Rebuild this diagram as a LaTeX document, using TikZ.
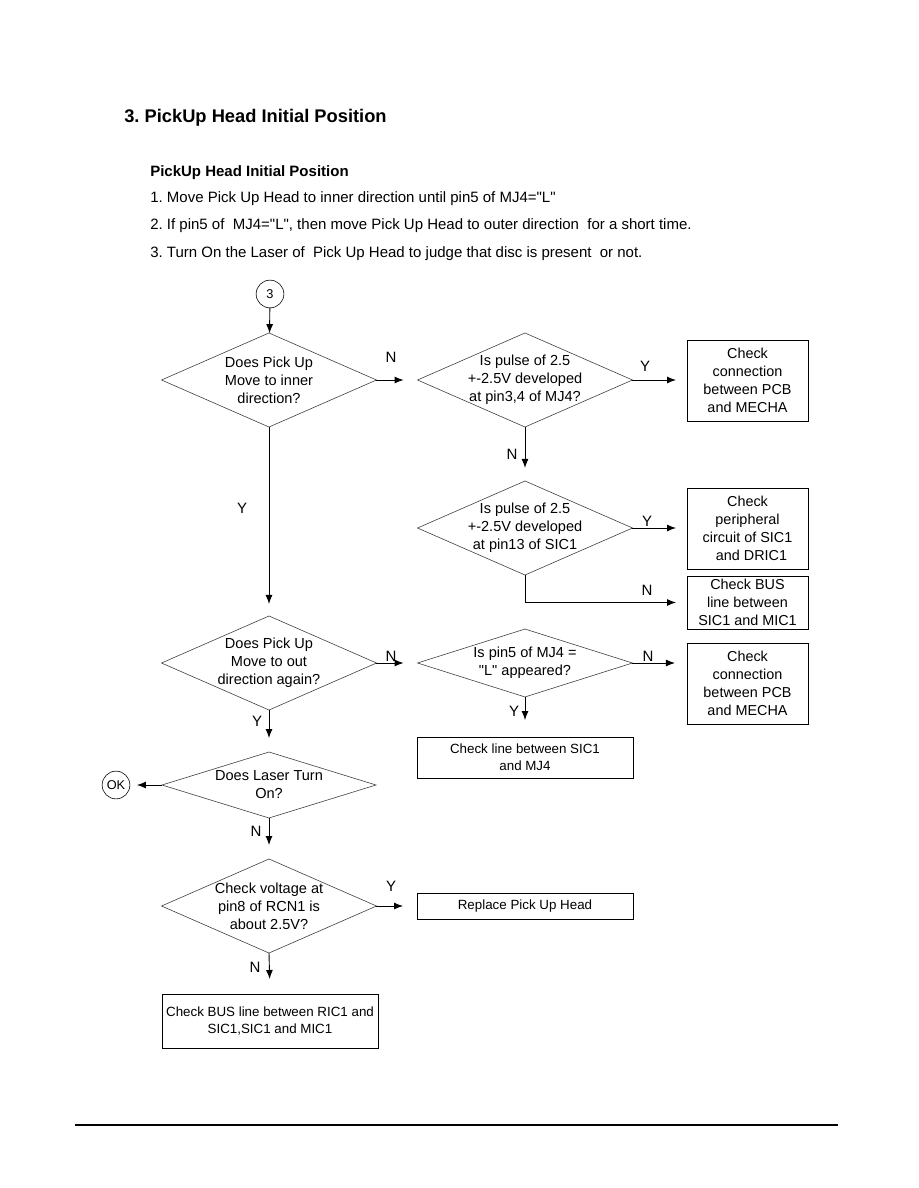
\documentclass[tikz,border=0pt]{standalone}
\usepackage{fontspec}
\setmainfont{Liberation Sans}[Ligatures=TeXOff]
\usetikzlibrary{arrows.meta,shapes.geometric}
\frenchspacing

\begin{document}
\begin{tikzpicture}[x=0.6667pt,y=-0.6667pt,>={Latex[length=6pt,width=4.6pt]},
  decision/.style={diamond,draw=black!75,line width=0.4pt,inner sep=0pt,outer sep=0pt,
    minimum width=143.3pt,minimum height=62.7pt},
  dtext/.style={align=center,inner sep=0pt,font=\fontsize{9.7}{12}\selectfont},
  smallbox/.style={draw,line width=0.6pt,inner sep=0pt,outer sep=0pt,align=center,
    minimum width=80.7pt,font=\fontsize{9.6}{12}\selectfont},
  widebox/.style={draw,line width=0.6pt,inner sep=0pt,outer sep=0pt,align=center,
    minimum width=144pt,font=\fontsize{8.9}{11.4}\selectfont},
  conn/.style={circle,draw,line width=0.4pt,inner sep=0pt,outer sep=0pt,
    minimum size=18.5pt,font=\fontsize{8.5}{9}\selectfont},
  yn/.style={inner sep=0pt,font=\fontsize{10}{12}\selectfont},
  head/.style={anchor=base west,inner sep=0pt,font=\fontsize{10}{12}\selectfont},
  flow/.style={->,line width=0.6pt}]
  \useasboundingbox (0,0) rectangle (918,1188);
  % heading
  \node[head,font=\fontsize{12.2}{15}\selectfont\bfseries] (title) at (124,123)
    {3. PickUp Head Initial Position};
  \node[head,font=\fontsize{10}{12}\selectfont\bfseries] (sub) at (150,177)
    {PickUp Head Initial Position};
  \node[head] (step1) at (150,203)
    {1. Move Pick Up Head to inner direction until pin5 of MJ4="L"};
  \node[head] (step2) at (150,230)
    {2. If pin5 of \ MJ4="L", then move Pick Up Head to outer direction \ for a short time.};
  \node[head] (step3) at (150,257)
    {3. Turn On the Laser of \ Pick Up Head to judge that disc is present \ or not.};

  % left column
  \node[conn] (c3) at (270,294) {3};
  \node[decision,label={[dtext]center:Does Pick Up\\Move to inner\\direction?}] (d1) at (269,380) {};
  \node[decision,label={[dtext]center:Does Pick Up\\Move to out\\direction again?}] (d4) at (269,663) {};
  \node[decision,minimum width=142.7pt,minimum height=44pt,
    label={[dtext]center:Does Laser Turn\\On?}] (d6) at (269,785) {};
  \node[conn] (ok) at (116,785) {OK};
  \node[decision,label={[dtext]center:Check voltage at\\pin8 of RCN1 is\\about 2.5V?}] (d7) at (269,906) {};
  \node[widebox,minimum height=36pt] (b7) at (270,1021)
    {Check BUS line between RIC1 and\\SIC1,SIC1 and MIC1};

  % middle column
  \node[decision,label={[dtext]center:Is pulse of 2.5\\+-2.5V developed\\at pin3,4 of MJ4?}] (d2) at (525,380) {};
  \node[decision,label={[dtext]center:Is pulse of 2.5\\+-2.5V developed\\at pin13 of SIC1}] (d3) at (525,528) {};
  \node[decision,minimum height=45.3pt,
    label={[dtext]center:Is pin5 of MJ4 =\\"L" appeared?}] (d5) at (525,663) {};
  \node[widebox,minimum height=27.3pt] (b5) at (525,757.5) {Check line between SIC1\\and MJ4};
  \node[widebox,minimum height=17.3pt] (b6) at (525,906) {Replace Pick Up Head};

  % right column
  \node[smallbox,minimum height=54pt] (b1) at (747.5,380.5) {Check\\connection\\between PCB\\and MECHA};
  \node[smallbox,minimum height=54pt] (b2) at (747.5,528.5) {Check\\peripheral\\circuit of SIC1\\\ \ and DRIC1};
  \node[smallbox,minimum height=35.3pt] (b3) at (747.5,602.5) {Check BUS\\line between\\SIC1 and MIC1};
  \node[smallbox,minimum height=54pt] (b4) at (747.5,683.5) {Check\\connection\\between PCB\\and MECHA};

  % connectors
  \draw[flow] (c3) -- (d1);
  \draw[flow,shorten >=9.3pt] (d1.east) -- (d2.west);
  \draw[flow,shorten >=7.3pt] (d2.east) -- (d2.east -| b1.west);
  \draw[flow,shorten >=8.7pt] (d2.south) -- (d3.north);
  \draw[flow,shorten >=7.3pt] (d3.east) -- (d3.east -| b2.west);
  \draw[flow,shorten >=7.3pt] (d3.south) |- (b3.west);
  \draw[flow,shorten >=8pt] (d1.south) -- (d4.north);
  \draw[flow,shorten >=9.3pt] (d4.east) -- (d5.west);
  \draw[flow,shorten >=8pt] (d5.east) -- (d5.east -| b4.west);
  \draw[flow,shorten >=11.3pt] (d5.south) -- (b5.north);
  \draw[flow,shorten >=9.3pt] (d4.south) -- (d6.north);
  \draw[flow,shorten >=4.7pt] (d6.west) -- (ok.east);
  \draw[flow,shorten >=9.3pt] (d6.south) -- (d7.north);
  \draw[flow,shorten >=9.3pt] (d7.east) -- (b6.west);
  \draw[flow,shorten >=10pt] (d7.south) -- (b7.north);

  % Y / N marks
  \node[yn] (n12) at (391,357) {N};
  \node[yn] (y2b1) at (645,366) {Y};
  \node[yn] (n23) at (512,454) {N};
  \node[yn] (y14) at (242,508) {Y};
  \node[yn] (y3b2) at (647,521) {Y};
  \node[yn] (n3b3) at (647,590) {N};
  \node[yn] (n45) at (391,656) {N};
  \node[yn] (n5b4) at (648,656) {N};
  \node[yn] (y5b5) at (514,711) {Y};
  \node[yn] (y46) at (257,721) {Y};
  \node[yn] (n67) at (256,831) {N};
  \node[yn] (y7b6) at (391,886) {Y};
  \node[yn] (n7b7) at (255,967) {N};

  % footer rule
  \draw[line width=1pt] (75,1125) -- (838,1125);
\end{tikzpicture}
\end{document}
